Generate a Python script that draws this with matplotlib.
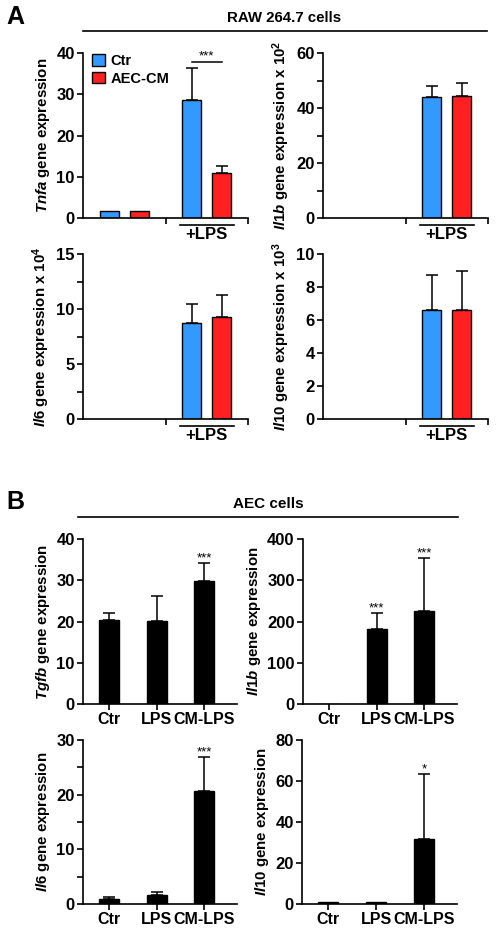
import matplotlib
matplotlib.use("Agg")
import matplotlib.pyplot as plt
import matplotlib.transforms as mtransforms
from matplotlib.patches import Patch

plt.rcParams['font.family'] = ['Liberation Sans', 'DejaVu Sans']
plt.rcParams['font.weight'] = 'bold'
plt.rcParams['mathtext.fontset'] = 'custom'
plt.rcParams['mathtext.it'] = 'Liberation Sans:italic:bold'
plt.rcParams['mathtext.rm'] = 'Liberation Sans:bold'
plt.rcParams['mathtext.bf'] = 'Liberation Sans:bold'

# --- data ---
# Panel A: RAW 264.7 cells, groups = [untreated, +LPS]
tnfa_ctr = [1.8, 28.5]
tnfa_ctr_err = [0, 7.8]
tnfa_cm = [1.8, 11.0]
tnfa_cm_err = [0, 1.6]

il1b_ctr = [0, 44.0]
il1b_ctr_err = [0, 4.0]
il1b_cm = [0, 44.5]
il1b_cm_err = [0, 4.5]

il6_ctr = [0, 8.7]
il6_ctr_err = [0, 1.8]
il6_cm = [0, 9.3]
il6_cm_err = [0, 2.0]

il10_ctr = [0, 6.6]
il10_ctr_err = [0, 2.1]
il10_cm = [0, 6.6]
il10_cm_err = [0, 2.4]

# Panel B: AEC cells
aec_groups = ['Ctr', 'LPS', 'CM-LPS']
tgfb_mean = [20.3, 20.1, 29.9]
tgfb_err = [1.7, 6.1, 4.2]
tgfb_sig = ['', '', '***']
il1b_aec_mean = [1.0, 181, 226]
il1b_aec_err = [0, 40, 127]
il1b_aec_sig = ['', '***', '***']
il6_aec_mean = [0.9, 1.7, 20.6]
il6_aec_err = [0.3, 0.5, 6.2]
il6_aec_sig = ['', '', '***']
il10_aec_mean = [1.2, 1.2, 31.8]
il10_aec_err = [0, 0, 31.7]
il10_aec_sig = ['', '', '*']

BLUE = '#3399ff'
RED = '#ff2020'
W, H = 500, 935

fig = plt.figure(figsize=(5, 9.35), dpi=100)


def ax_px(l, t, r, b):
    return fig.add_axes([l / W, (H - b) / H, (r - l) / W, (b - t) / H])


def style(ax, top, major, minor=None):
    for s in ['top', 'right']:
        ax.spines[s].set_visible(False)
    for s in ['left', 'bottom']:
        ax.spines[s].set_linewidth(1.2)
    ax.set_ylim(0, top)
    ax.set_yticks(major)
    ax.set_yticklabels([f"{m:g}" for m in major])
    if minor:
        ax.set_yticks(minor, minor=True)
    ax.tick_params(axis='y', which='major', labelsize=12, length=4, width=1.2, pad=2)
    ax.tick_params(axis='y', which='minor', length=4, width=1.2)
    ax.tick_params(axis='x', length=4, width=1.2)


def err(ax, x, y, e):
    if e > 0:
        ax.errorbar(x, y, yerr=[[0], [e]], fmt='none', ecolor='black',
                    elinewidth=1.1, capsize=4.5, capthick=1.1, zorder=1)


def raw_panel(ax, ctr, ctr_err, cm, cm_err, top, major, minor, label):
    centers = [0.5, 1.5]
    off, bw = 0.183, 0.23
    for i, c in enumerate(centers):
        if ctr[i] > 0:
            ax.bar(c - off, ctr[i], bw, color=BLUE, edgecolor='black', linewidth=1, zorder=2)
            err(ax, c - off, ctr[i], ctr_err[i])
        if cm[i] > 0:
            ax.bar(c + off, cm[i], bw, color=RED, edgecolor='black', linewidth=1, zorder=2)
            err(ax, c + off, cm[i], cm_err[i])
    ax.set_xlim(0, 2)
    ax.set_xticks([1, 2])
    ax.set_xticklabels([])
    style(ax, top, major, minor)
    ax.set_ylabel(label, fontsize=10.8, fontweight='bold', labelpad=3)
    tr = mtransforms.blended_transform_factory(ax.transData, ax.transAxes)
    x0 = centers[1] - off - bw / 2 - 0.03
    x1 = centers[1] + off + bw / 2 + 0.03
    ax.plot([x0, x1], [-0.042, -0.042], color='black', lw=1.2, transform=tr, clip_on=False)
    ax.text(centers[1], -0.1, '+LPS', transform=tr, ha='center', va='center',
            fontsize=12, fontweight='bold')


def aec_panel(ax, mean, e, sig, top, major, minor, label):
    xs = range(len(aec_groups))
    ax.bar(xs, mean, 0.42, color='black', edgecolor='black', zorder=2)
    for i in xs:
        err(ax, i, mean[i], e[i])
        if sig[i]:
            ax.annotate(sig[i], (i, mean[i] + e[i]), xytext=(0, -1),
                        textcoords='offset points', ha='center', va='bottom',
                        fontsize=9.5, fontweight='normal')
    ax.set_xlim(-0.55, 2.69)
    ax.set_xticks(list(xs))
    ax.set_xticklabels(aec_groups, fontsize=11.5, fontweight='bold')
    ax.tick_params(axis='x', pad=2)
    style(ax, top, major, minor)
    ax.set_ylabel(label, fontsize=10.8, fontweight='bold', labelpad=3)


# Panel A
ax1 = ax_px(83, 53, 248, 218)
raw_panel(ax1, tnfa_ctr, tnfa_ctr_err, tnfa_cm, tnfa_cm_err, 40,
          [0, 10, 20, 30, 40], None, r"$\mathit{Tnfa}$ gene expression")
ax1.legend(handles=[Patch(facecolor=BLUE, edgecolor='black', label='Ctr'),
                    Patch(facecolor=RED, edgecolor='black', label='AEC-CM')],
           loc='upper left', bbox_to_anchor=(0.02, 1.03), frameon=False,
           handlelength=0.85, handleheight=0.85, handletextpad=0.4,
           labelspacing=0.25, borderaxespad=0, prop={'size': 10.5, 'weight': 'bold'})
ax1.plot([1.5 - 0.183, 1.5 + 0.183], [37.8, 37.8], color='black', lw=1.1, clip_on=False)
ax1.text(1.5, 37.6, '***', ha='center', va='bottom', fontsize=9.5, fontweight='normal')

ax2 = ax_px(323, 53, 488, 218)
raw_panel(ax2, il1b_ctr, il1b_ctr_err, il1b_cm, il1b_cm_err, 60,
          [0, 20, 40, 60], [10, 30, 50], r"$\mathit{Il1b}$ gene expression x 10$^{2}$")

ax3 = ax_px(83, 254, 248, 419)
raw_panel(ax3, il6_ctr, il6_ctr_err, il6_cm, il6_cm_err, 15,
          [0, 5, 10, 15], [2.5, 7.5, 12.5], r"$\mathit{Il6}$ gene expression x 10$^{4}$")

ax4 = ax_px(323, 254, 488, 419)
raw_panel(ax4, il10_ctr, il10_ctr_err, il10_cm, il10_cm_err, 10,
          [0, 2, 4, 6, 8, 10], None, r"$\mathit{Il10}$ gene expression x 10$^{3}$")

# Panel B
ax5 = ax_px(83, 539, 237, 704)
aec_panel(ax5, tgfb_mean, tgfb_err, tgfb_sig, 40, [0, 10, 20, 30, 40], None,
          r"$\mathit{Tgfb}$ gene expression")
ax6 = ax_px(303, 539, 457, 704)
aec_panel(ax6, il1b_aec_mean, il1b_aec_err, il1b_aec_sig, 400, [0, 100, 200, 300, 400], None,
          r"$\mathit{Il1b}$ gene expression")
ax7 = ax_px(83, 740, 237, 904)
aec_panel(ax7, il6_aec_mean, il6_aec_err, il6_aec_sig, 30, [0, 10, 20, 30], [5, 15, 25],
          r"$\mathit{Il6}$ gene expression")
ax8 = ax_px(302, 740, 457, 904)
aec_panel(ax8, il10_aec_mean, il10_aec_err, il10_aec_sig, 80, [0, 20, 40, 60, 80], None,
          r"$\mathit{Il10}$ gene expression")

# section headers
fig.text(6 / W, 1 - 17 / H, 'A', fontsize=18, fontweight='bold', va='center', ha='left')
fig.text(284 / W, 1 - 18 / H, 'RAW 264.7 cells', fontsize=10.8, fontweight='bold',
         ha='center', va='center')
fig.add_artist(plt.Line2D([83 / W, 487 / W], [1 - 31 / H, 1 - 31 / H], color='black', lw=1.2))
fig.text(6 / W, 1 - 502 / H, 'B', fontsize=18, fontweight='bold', va='center', ha='left')
fig.text(268 / W, 1 - 504 / H, 'AEC cells', fontsize=11, fontweight='bold',
         ha='center', va='center')
fig.add_artist(plt.Line2D([78 / W, 458 / W], [1 - 517 / H, 1 - 517 / H], color='black', lw=1.2))

fig.savefig('out.png', dpi=100, facecolor='white')
